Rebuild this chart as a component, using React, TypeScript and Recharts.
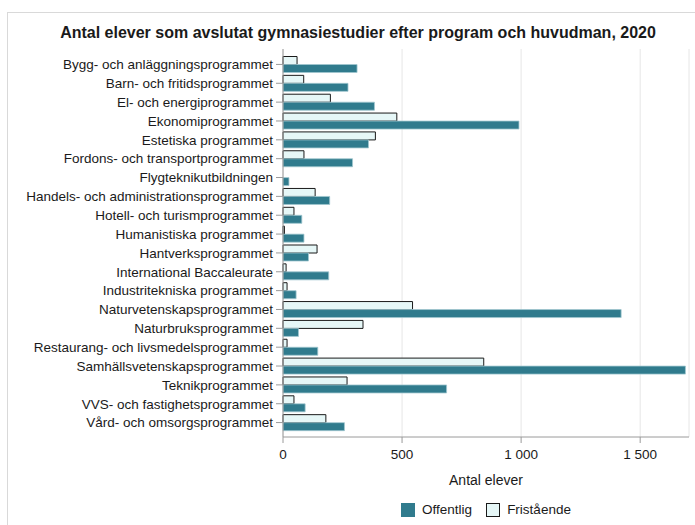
import { BarChart, Bar, XAxis, YAxis, CartesianGrid, Label } from "recharts";

const FONT = '"Liberation Sans", Arial, sans-serif';

const programs = [
  "Bygg- och anläggningsprogrammet",
  "Barn- och fritidsprogrammet",
  "El- och energiprogrammet",
  "Ekonomiprogrammet",
  "Estetiska programmet",
  "Fordons- och transportprogrammet",
  "Flygteknikutbildningen",
  "Handels- och administrationsprogrammet",
  "Hotell- och turismprogrammet",
  "Humanistiska programmet",
  "Hantverksprogrammet",
  "International Baccaleurate",
  "Industritekniska programmet",
  "Naturvetenskapsprogrammet",
  "Naturbruksprogrammet",
  "Restaurang- och livsmedelsprogrammet",
  "Samhällsvetenskapsprogrammet",
  "Teknikprogrammet",
  "VVS- och fastighetsprogrammet",
  "Vård- och omsorgsprogrammet",
];

const offentlig = [311, 273, 384, 991, 359, 292, 25, 196, 79, 88, 107, 192, 55, 1420, 65, 146, 1690, 687, 93, 258];
const fristaende = [59, 87, 199, 478, 388, 88, 0, 135, 46, 6, 143, 13, 17, 544, 336, 17, 843, 269, 46, 180];

const xTicks = [0, 500, 1000, 1500];

// legend order differs from bar order (Fristående is drawn on top in each band)
const legendItems = [
  { name: "Offentlig", fill: "#307b8d", stroke: "#307b8d" },
  { name: "Fristående", fill: "#e6f7f7", stroke: "#1a1a1a" },
];

const data = programs.map((program, i) => ({
  program,
  offentlig: offentlig[i],
  fristaende: fristaende[i],
}));

const fmt = (v: number) => (v >= 1000 ? `${Math.floor(v / 1000)} ${String(v % 1000).padStart(3, "0")}` : `${v}`);

export default function App() {
  return (
    <div
      style={{
        position: "absolute",
        left: 7,
        top: 12,
        width: 700,
        height: 530,
        border: "1px solid #d9d9d9",
        fontFamily: FONT,
        color: "#1a1a1a",
      }}
    >
      <div
        style={{
          position: "absolute",
          top: 10,
          left: 0,
          width: "100%",
          textAlign: "center",
          fontSize: 16,
          lineHeight: "19px",
          fontWeight: "bold",
        }}
      >
        Antal elever som avslutat gymnasiestudier efter program och huvudman, 2020
      </div>
      <div style={{ position: "absolute", left: 0, top: 0 }}>
        <BarChart
          width={700}
          height={512}
          data={data}
          layout="vertical"
          margin={{ top: 36, right: 19, left: 0, bottom: 40 }}
          barCategoryGap="8%"
          barGap={0}
        >
          <CartesianGrid horizontal={false} stroke="#e6e6e6" />
          <XAxis
            type="number"
            domain={[0, 1705]}
            ticks={xTicks}
            tickFormatter={fmt}
            height={48}
            tickSize={6}
            tickMargin={6}
            stroke="#9a9a9a"
            tick={{ fill: "#1a1a1a", fontSize: 13.5, fontFamily: FONT }}
          >
            <Label
              value="Antal elever"
              position="insideBottom"
              offset={0}
              style={{ fill: "#1a1a1a", fontSize: 14, fontFamily: FONT }}
            />
          </XAxis>
          <XAxis
            xAxisId="top"
            orientation="top"
            type="number"
            domain={[0, 1705]}
            height={0}
            tick={false}
            tickLine={false}
            stroke="#cfcfcf"
          />
          <YAxis
            type="category"
            dataKey="program"
            width={275}
            interval={0}
            padding={{ top: 6, bottom: 5 }}
            tickSize={7}
            tickMargin={3}
            stroke="#9a9a9a"
            tick={{ fill: "#1a1a1a", fontSize: 13.5, fontFamily: FONT }}
          />
          <YAxis
            yAxisId="right"
            orientation="right"
            type="category"
            dataKey="program"
            width={0}
            tick={false}
            tickLine={false}
            stroke="#cfcfcf"
          />
          <Bar
            dataKey="fristaende"
            name="Fristående"
            fill="#e6f7f7"
            stroke="#1a1a1a"
            strokeWidth={1}
            isAnimationActive={false}
          />
          <Bar
            dataKey="offentlig"
            name="Offentlig"
            fill="#307b8d"
            stroke="#9fc6cf"
            strokeWidth={0.8}
            isAnimationActive={false}
          />
        </BarChart>
      </div>
      <div
        style={{
          position: "absolute",
          left: 275,
          width: 406,
          top: 489,
          display: "flex",
          justifyContent: "center",
          gap: 14,
          fontSize: 13.5,
        }}
      >
        {legendItems.map((item) => (
          <div key={item.name} style={{ display: "flex", alignItems: "center", gap: 7 }}>
            <span
              style={{
                display: "inline-block",
                width: 14,
                height: 14,
                boxSizing: "border-box",
                background: item.fill,
                border: `1px solid ${item.stroke}`,
              }}
            />
            <span>{item.name}</span>
          </div>
        ))}
      </div>
    </div>
  );
}
